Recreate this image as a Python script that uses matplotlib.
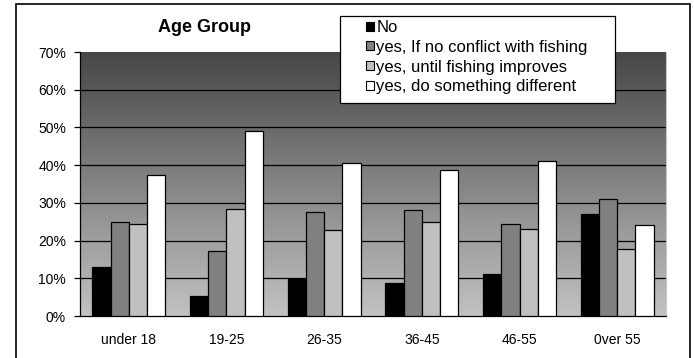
import matplotlib
matplotlib.use("Agg")
import matplotlib.pyplot as plt
from matplotlib.patches import Patch, Rectangle
import numpy as np

plt.rcParams['font.family'] = ['Liberation Sans', 'DejaVu Sans']

# data (percent)
groups = ["under 18", "19-25", "26-35", "36-45", "46-55", "0ver 55"]
series_names = ["No", "yes, If no conflict with fishing",
                "yes, until fishing improves", "yes, do something different"]
no_vals = [13.1, 5.3, 9.9, 8.7, 11.2, 27.0]
no_conflict = [25.0, 17.3, 27.5, 28.1, 24.4, 31.1]
until_improves = [24.4, 28.5, 22.7, 24.8, 23.0, 17.8]
something_diff = [37.5, 49.1, 40.6, 38.8, 41.0, 24.1]
series_vals = [no_vals, no_conflict, until_improves, something_diff]
colors = ["#000000", "#808080", "#c0c0c0", "#ffffff"]

W, H = 694, 358
fig = plt.figure(figsize=(W / 100, H / 100), dpi=100)
ax = fig.add_axes([80 / W, 1 - 316 / H, 586 / W, 264 / H])

# gradient background of plot area
grad = np.linspace(0, 1, 256).reshape(-1, 1)
ax.imshow(grad, cmap=matplotlib.colors.LinearSegmentedColormap.from_list(
    "bg", ["#c2c2c2", "#474747"]), aspect="auto", origin="lower",
    extent=[0, 1, 0, 1], transform=ax.transAxes, zorder=0)

x = np.arange(len(groups))
bw = 0.1875
for i, (vals, c) in enumerate(zip(series_vals, colors)):
    ax.bar(x - 1.5 * bw + i * bw, vals, bw, color=c, edgecolor="black",
           linewidth=0.9, zorder=3)

for yv in range(10, 70, 10):
    ax.axhline(yv, color="black", linewidth=0.9, zorder=1)

ax.set_xlim(-0.5, len(groups) - 0.5)
ax.set_ylim(0, 70)
ax.set_yticks(range(0, 71, 10))
ax.set_yticklabels([f"{v}%" for v in range(0, 71, 10)], fontsize=10)
ax.set_xticks(x)
ax.set_xticklabels(groups, fontsize=10)
ax.tick_params(axis="x", length=0, pad=12)
ax.tick_params(axis="y", length=4, width=0.9, pad=6)
ax.spines["top"].set_visible(False)
ax.spines["right"].set_color("#c8c8c8")
ax.spines["left"].set_linewidth(0.9)
ax.spines["bottom"].set_linewidth(0.9)

fig.text(204 / W, 1 - 27 / H, "Age Group", fontsize=13, fontweight="bold",
         ha="center", va="center")

# legend box drawn separately (Excel style padding)
fig.add_artist(Rectangle((340 / W, 1 - 103 / H), (615 - 340) / W, 87 / H,
                         transform=fig.transFigure, facecolor="white",
                         edgecolor="black", linewidth=0.9, zorder=4))
handles = [Patch(facecolor=c, edgecolor="black", linewidth=0.8) for c in colors]
leg = fig.legend(handles, series_names, loc="upper left",
                 bbox_to_anchor=(366 / W, 1 - 20 / H),
                 fontsize=12, frameon=False,
                 handlelength=0.46, handleheight=0.46,
                 handletextpad=0.15, borderpad=0, labelspacing=0.29,
                 borderaxespad=0)
leg.set_zorder(5)

fig.add_artist(Rectangle((16 / W, -0.05), (690 - 16) / W, 1.05 - 4 / H,
                         transform=fig.transFigure, fill=False,
                         edgecolor="black", linewidth=1.2))

fig.savefig("out.png", dpi=100)
